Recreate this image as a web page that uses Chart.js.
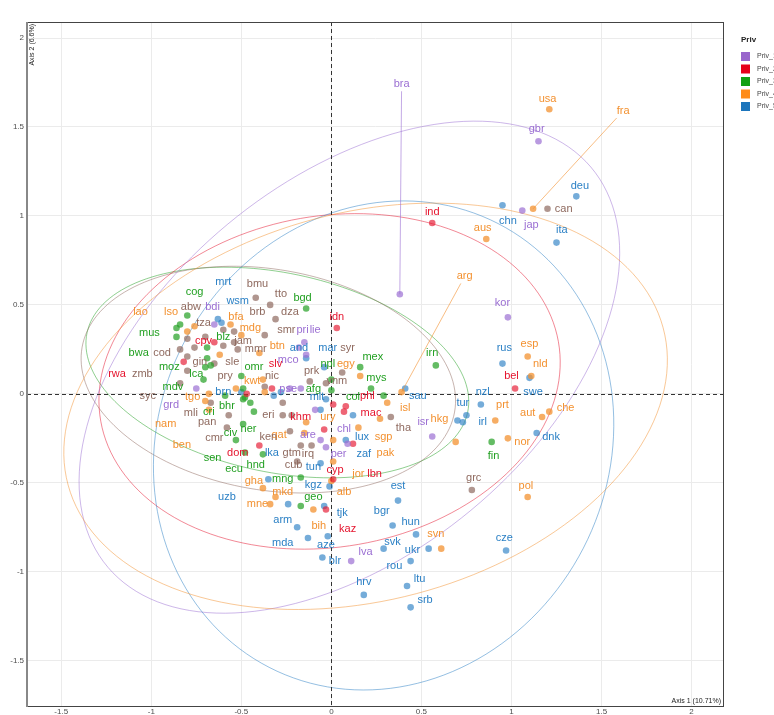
<!DOCTYPE html>
<html>
<head>
<meta charset="utf-8">
<script src="https://cdn.jsdelivr.net/npm/chart.js@4.4.1/dist/chart.umd.min.js"></script>
<style>
  html, body { margin: 0; padding: 0; overflow: hidden; background: #fff; }
  #wrap { width: 774px; height: 715px; }
</style>
</head>
<body>
<div id="wrap"><canvas id="chart"></canvas></div>
<script>
// country codes, group and coordinates on the two axes
const codes = ['bra','usa','fra','gbr','deu','chn','jap','can','ita','ind','aus','arg','kor','rus','esp','nld','swe','bel','nzl','tur','irl','prt','aut','che','dnk','nor','fin','hkg','isr','grc','pol','irn','sau','isl','tha','sgp','pak','est','bgr','hun','svn','svk','ukr','cze','rou','ltu','srb','hrv','lva','blr','aze','mda','arm','kaz','tjk','bih','geo','uzb','mne','mkd','gha','mng','kgz','alb','cyp','jor','lbn','lux','zaf','chl','per','are','ury','mac','phl','col','khm','qat','ken','eri','lka','gtm','irq','cub','tun','hnd','ecu','dom','sen','civ','ner','cmr','pan','ben','nam','mli','cri','bhr','tgo','grd','syc','brn','mdv','rwa','zmb','moz','lca','pry','sle','gin','cod','bwa','mus','lao','lso','cog','abw','bdi','tza','cpv','blz','mrt','wsm','bfa','bmu','tto','brb','dza','bgd','mdg','smr','pri','lie','idn','jam','mmr','btn','and','mar','syr','mco','prk','npl','egy','mex','mys','vnm','afg','pse','mlt','kwt','nic','omr','slv',
  '','','','','','','','','','','','','','','','','','','','',''];
const groups = ['P','O','O','P','B','B','P','N','B','R','O','O','P','B','O','O','B','R','B','B','B','O','O','O','B','O','G','O','P','N','O','G','B','O','N','O','O','B','B','B','O','B','B','B','B','B','B','B','P','B','B','B','B','R','B','O','G','B','O','O','O','G','B','O','R','O','R','B','B','P','P','P','O','R','R','G','R','O','N','N','B','N','N','N','B','G','G','R','G','G','G','N','N','O','O','N','G','G','O','P','N','B','G','R','N','G','G','N','N','N','N','G','G','O','O','G','N','P','N','R','G','B','B','O','N','N','N','N','G','O','N','P','P','R','N','N','O','B','B','N','P','N','G','O','G','G','N','G','P','B','O','N','G','R',
  'G','G','R','O','N','G','B','B','O','P','R','B','P','G','N','G','O','N','B','O','N'];
const dim1 = [0.38,1.21,1.12,1.15,1.36,0.95,1.06,1.20,1.25,0.56,0.86,0.39,0.98,0.95,1.09,1.11,1.10,1.02,0.83,0.75,0.73,0.91,1.17,1.21,1.14,0.98,0.89,0.69,0.56,0.78,1.09,0.58,0.41,0.31,0.33,0.27,0.15,0.37,0.34,0.47,0.61,0.29,0.54,0.97,0.44,0.42,0.44,0.18,0.11,-0.05,-0.02,-0.13,-0.19,-0.03,-0.04,-0.10,-0.17,-0.24,-0.34,-0.31,-0.38,-0.17,-0.01,0.00,0.01,0.01,0.12,0.12,0.08,0.09,-0.03,-0.06,0.01,0.07,0.08,0.29,-0.04,-0.14,-0.23,-0.27,-0.35,-0.17,-0.11,-0.19,-0.06,-0.38,-0.48,-0.40,-0.53,-0.49,-0.43,-0.58,-0.57,-0.68,-0.70,-0.67,-0.59,-0.49,-0.68,-0.75,-0.84,-0.50,-0.71,-0.82,-0.80,-0.69,-0.67,-0.65,-0.60,-0.80,-0.84,-0.86,-0.84,-0.80,-0.76,-0.80,-0.80,-0.65,-0.70,-0.65,-0.69,-0.63,-0.61,-0.56,-0.42,-0.34,-0.54,-0.31,-0.14,-0.50,-0.37,-0.18,-0.15,0.03,-0.54,-0.52,-0.40,-0.14,-0.04,0.06,-0.14,-0.12,0.00,0.16,0.16,0.22,-0.03,0.00,-0.17,-0.03,-0.38,-0.37,-0.50,-0.33,
  -0.49,-0.48,-0.47,-0.53,-0.27,-0.45,-0.32,-0.28,-0.37,-0.23,0.01,-0.06,-0.09,-0.86,-0.76,-0.70,-0.62,-0.60,0.70,-0.15,-0.22];
const dim2 = [0.56,1.60,1.04,1.42,1.11,1.06,1.03,1.04,0.85,0.96,0.87,0.01,0.43,0.17,0.21,0.10,0.09,0.03,-0.06,-0.12,-0.16,-0.15,-0.13,-0.10,-0.22,-0.25,-0.27,-0.27,-0.24,-0.54,-0.58,0.16,0.03,-0.05,-0.13,-0.14,-0.19,-0.60,-0.74,-0.79,-0.87,-0.87,-0.87,-0.88,-0.94,-1.08,-1.20,-1.13,-0.94,-0.92,-0.80,-0.81,-0.75,-0.65,-0.63,-0.65,-0.63,-0.62,-0.62,-0.58,-0.53,-0.47,-0.52,-0.49,-0.48,-0.38,-0.28,-0.12,-0.26,-0.28,-0.30,-0.26,-0.26,-0.10,-0.07,-0.01,-0.20,-0.16,-0.21,-0.12,-0.48,-0.29,-0.29,-0.38,-0.39,-0.34,-0.33,-0.29,-0.26,-0.17,-0.10,-0.19,-0.12,-0.09,-0.04,-0.05,-0.01,-0.03,0.00,0.03,0.06,0.01,0.08,0.18,0.13,0.20,0.16,0.17,0.27,0.21,0.25,0.37,0.39,0.35,0.38,0.44,0.31,0.39,0.32,0.29,0.26,0.42,0.40,0.39,0.54,0.50,0.35,0.42,0.48,0.33,0.33,0.26,0.29,0.37,0.29,0.25,0.23,0.20,0.15,0.12,0.22,0.07,0.08,0.10,0.15,0.03,0.06,0.02,0.03,-0.03,0.08,0.04,0.10,0.03,
  0.03,-0.02,0.00,0.03,-0.05,-0.05,-0.01,0.01,0.01,0.03,-0.06,-0.09,-0.09,0.32,0.26,0.15,0.22,0.36,-0.15,-0.22,-0.12];
// where each text label sits (ggrepel placement)
const labelDim1 = [0.39,1.20,1.62,1.14,1.38,0.98,1.11,1.29,1.28,0.56,0.84,0.74,0.95,0.96,1.10,1.16,1.12,1.00,0.84,0.73,0.84,0.95,1.09,1.30,1.22,1.06,0.90,0.60,0.51,0.79,1.08,0.56,0.48,0.41,0.40,0.29,0.30,0.37,0.28,0.44,0.58,0.34,0.45,0.96,0.35,0.49,0.52,0.18,0.19,0.02,-0.03,-0.27,-0.27,0.09,0.06,-0.07,-0.10,-0.58,-0.41,-0.27,-0.43,-0.27,-0.10,0.07,0.02,0.15,0.24,0.17,0.18,0.07,0.04,-0.13,-0.02,0.22,0.20,0.12,-0.17,-0.29,-0.35,-0.35,-0.33,-0.22,-0.13,-0.21,-0.10,-0.42,-0.54,-0.52,-0.66,-0.56,-0.46,-0.65,-0.69,-0.83,-0.92,-0.78,-0.68,-0.58,-0.77,-0.89,-1.02,-0.60,-0.88,-1.19,-1.05,-0.90,-0.75,-0.59,-0.55,-0.73,-0.94,-1.07,-1.01,-1.06,-0.89,-0.76,-0.78,-0.66,-0.71,-0.71,-0.60,-0.60,-0.52,-0.53,-0.41,-0.28,-0.41,-0.23,-0.16,-0.45,-0.25,-0.16,-0.09,0.03,-0.49,-0.42,-0.30,-0.18,-0.02,0.09,-0.24,-0.11,-0.02,0.08,0.23,0.25,0.03,-0.10,-0.24,-0.08,-0.44,-0.33,-0.43,-0.31,
  0,0,0,0,0,0,0,0,0,0,0,0,0,0,0,0,0,0,0,0,0];
const labelDim2 = [1.74,1.66,1.59,1.49,1.17,0.97,0.95,1.04,0.92,1.02,0.93,0.66,0.51,0.26,0.28,0.17,0.01,0.10,0.01,-0.05,-0.16,-0.06,-0.11,-0.08,-0.24,-0.27,-0.35,-0.14,-0.16,-0.47,-0.52,0.23,-0.01,-0.08,-0.19,-0.24,-0.33,-0.52,-0.66,-0.72,-0.79,-0.83,-0.88,-0.81,-0.97,-1.04,-1.16,-1.06,-0.89,-0.94,-0.85,-0.84,-0.71,-0.76,-0.67,-0.74,-0.58,-0.58,-0.62,-0.55,-0.49,-0.48,-0.51,-0.55,-0.43,-0.45,-0.45,-0.24,-0.34,-0.20,-0.34,-0.23,-0.13,-0.11,-0.01,-0.02,-0.13,-0.23,-0.24,-0.12,-0.33,-0.33,-0.34,-0.40,-0.41,-0.40,-0.42,-0.33,-0.36,-0.22,-0.20,-0.25,-0.16,-0.29,-0.17,-0.11,-0.10,-0.07,-0.02,-0.06,-0.01,0.01,0.04,0.11,0.11,0.15,0.11,0.10,0.18,0.18,0.23,0.23,0.34,0.46,0.46,0.57,0.49,0.49,0.40,0.30,0.32,0.63,0.52,0.43,0.62,0.56,0.46,0.46,0.54,0.37,0.36,0.36,0.36,0.43,0.30,0.25,0.27,0.26,0.26,0.26,0.19,0.13,0.17,0.17,0.21,0.09,0.07,0.03,0.03,-0.02,0.07,0.10,0.15,0.17,
  0,0,0,0,0,0,0,0,0,0,0,0,0,0,0,0,0,0,0,0,0];

const groupKeys = ['P', 'R', 'G', 'O', 'B', 'N'];
const groupNames = ['Priv_1', 'Priv_2', 'Priv_3', 'Priv_4', 'Priv_5', 'Priv_NA'];
const groupText = ['#9b6fd3', '#e5132d', '#22a022', '#f39130', '#2b80c5', '#8f6a5f'];
const groupPoint = ['rgba(155,111,211,0.7)', 'rgba(229,19,45,0.65)', 'rgba(34,160,34,0.7)', 'rgba(243,145,48,0.75)', 'rgba(43,128,197,0.65)', 'rgba(143,106,95,0.7)'];
const groupLegend = ['#9966cc', '#e6001a', '#13a013', '#ff8c1a', '#1c75bc'];

// concentration ellipses per group: centre, half axes, rotation in degrees
const ellipseGroup = ['G', 'N', 'R', 'P', 'B', 'O'];
const ellipseCx = [-0.30, -0.35, -0.01, 0.10, 0.29, 0.19];
const ellipseCy = [0.12, 0.08, 0.07, 0.15, -0.29, -0.07];
const ellipseA = [1.08, 1.05, 1.29, 1.75, 1.40, 1.71];
const ellipseB = [0.56, 0.62, 0.93, 1.05, 1.25, 1.09];
const ellipseAngle = [-12, -10, 10, 40, 65, 15];

const font = '"Liberation Sans", Arial, Helvetica, sans-serif';

const datasets = groupKeys.map((g, k) => ({
  label: groupNames[k],
  data: codes.map((c, i) => ({ x: dim1[i], y: dim2[i], i })).filter(p => groups[p.i] === g),
  backgroundColor: groupPoint[k],
  borderWidth: 0,
  pointRadius: 3.3,
  pointHoverRadius: 3.3
}));

const decor = {
  id: 'decor',
  beforeDatasetsDraw(chart) {
    const { ctx, chartArea: a, scales: { x, y } } = chart;
    ctx.save();
    ctx.beginPath();
    ctx.rect(a.left, a.top, a.width, a.height);
    ctx.clip();
    ellipseGroup.forEach((g, k) => {
      const th = ellipseAngle[k] * Math.PI / 180;
      ctx.beginPath();
      for (let s = 0; s <= 160; s++) {
        const t = s / 160 * Math.PI * 2;
        const ex = ellipseA[k] * Math.cos(t), ey = ellipseB[k] * Math.sin(t);
        const px = x.getPixelForValue(ellipseCx[k] + ex * Math.cos(th) - ey * Math.sin(th));
        const py = y.getPixelForValue(ellipseCy[k] + ex * Math.sin(th) + ey * Math.cos(th));
        s ? ctx.lineTo(px, py) : ctx.moveTo(px, py);
      }
      ctx.strokeStyle = groupText[groupKeys.indexOf(g)] + '80';
      ctx.lineWidth = 1;
      ctx.stroke();
    });
    // dashed zero lines
    ctx.setLineDash([4, 3]);
    ctx.strokeStyle = '#333';
    ctx.lineWidth = 1;
    const x0 = Math.round(x.getPixelForValue(0)) + 0.5, y0 = Math.round(y.getPixelForValue(0)) + 0.5;
    ctx.beginPath();
    ctx.moveTo(x0, a.top); ctx.lineTo(x0, a.bottom);
    ctx.moveTo(a.left, y0); ctx.lineTo(a.right, y0);
    ctx.stroke();
    ctx.restore();
  },
  afterDatasetsDraw(chart) {
    const { ctx, chartArea: a, scales: { x, y } } = chart;
    ctx.save();
    ctx.font = '11px ' + font;
    ctx.textAlign = 'center';
    ctx.textBaseline = 'middle';
    codes.forEach((c, i) => {
      if (!c) return;
      const k = groupKeys.indexOf(groups[i]);
      const px = x.getPixelForValue(dim1[i]), py = y.getPixelForValue(dim2[i]);
      const lx = x.getPixelForValue(labelDim1[i]), ly = y.getPixelForValue(labelDim2[i]);
      const dx = px - lx, dy = py - ly;
      if (Math.hypot(dx, dy) > 100) {
        const w = ctx.measureText(c).width / 2 + 1, h = 7;
        const s = Math.min(w / Math.max(Math.abs(dx), 1e-6), h / Math.max(Math.abs(dy), 1e-6));
        ctx.strokeStyle = groupText[k] + '99';
        ctx.lineWidth = 1;
        ctx.beginPath();
        ctx.moveTo(px, py);
        ctx.lineTo(lx + dx * s, ly + dy * s);
        ctx.stroke();
      }
      ctx.fillStyle = groupText[k];
      ctx.fillText(c, lx, ly);
    });
    // panel frame
    ctx.strokeStyle = '#444';
    ctx.lineWidth = 1;
    ctx.strokeRect(a.left + 0.5, a.top + 0.5, a.width - 1, a.height - 1);
    ctx.strokeStyle = '#888';
    ctx.lineWidth = 2;
    ctx.beginPath();
    ctx.moveTo(a.left, a.top); ctx.lineTo(a.left, a.bottom);
    ctx.stroke();
    // axis titles inside the panel
    ctx.fillStyle = '#222';
    ctx.font = '7px ' + font;
    ctx.textAlign = 'right';
    ctx.textBaseline = 'bottom';
    ctx.fillText('Axis 1 (10.71%)', a.right - 3, a.bottom - 2);
    ctx.save();
    ctx.translate(a.left + 9, a.top + 2);
    ctx.rotate(-Math.PI / 2);
    ctx.fillText('Axis 2 (6.6%)', 0, 0);
    ctx.restore();
    // legend for the five groups, beside the panel
    const lx0 = a.right + 17;
    ctx.textAlign = 'left';
    ctx.textBaseline = 'middle';
    ctx.font = 'bold 8px ' + font;
    ctx.fillStyle = '#222';
    ctx.fillText('Priv', lx0, 40);
    ctx.font = '7px ' + font;
    groupLegend.forEach((col, k) => {
      const top = 52 + k * 12.5;
      ctx.fillStyle = col;
      ctx.fillRect(lx0, top, 9, 9);
      ctx.fillStyle = '#444';
      ctx.fillText(groupNames[k], lx0 + 16, top + 4.5);
    });
    ctx.restore();
  }
};

new Chart(document.getElementById('chart').getContext('2d'), {
  type: 'scatter',
  data: { datasets },
  options: {
    responsive: true,
    maintainAspectRatio: false,
    animation: false,
    layout: { padding: { top: 22, right: 50, bottom: 0, left: 0 } },
    plugins: {
      tooltip: { enabled: false },
      legend: { display: false }
    },
    scales: {
      x: {
        type: 'linear',
        min: -1.69,
        max: 2.18,
        afterFit: s => { s.height = 8; },
        ticks: { stepSize: 0.5, includeBounds: false, padding: 0, color: '#4d4d4d', font: { family: font, size: 8 },
          callback: v => String(Number(v.toFixed(2))) },
        grid: { color: '#ebebeb', drawTicks: false },
        border: { display: false }
      },
      y: {
        type: 'linear',
        min: -1.76,
        max: 2.09,
        afterFit: s => { s.width = 27; },
        ticks: { stepSize: 0.5, includeBounds: false, padding: 3, color: '#4d4d4d', font: { family: font, size: 8 },
          callback: v => String(Number(v.toFixed(2))) },
        grid: { color: '#ebebeb', drawTicks: false },
        border: { display: false }
      }
    }
  },
  plugins: [decor]
});
</script>
</body>
</html>
